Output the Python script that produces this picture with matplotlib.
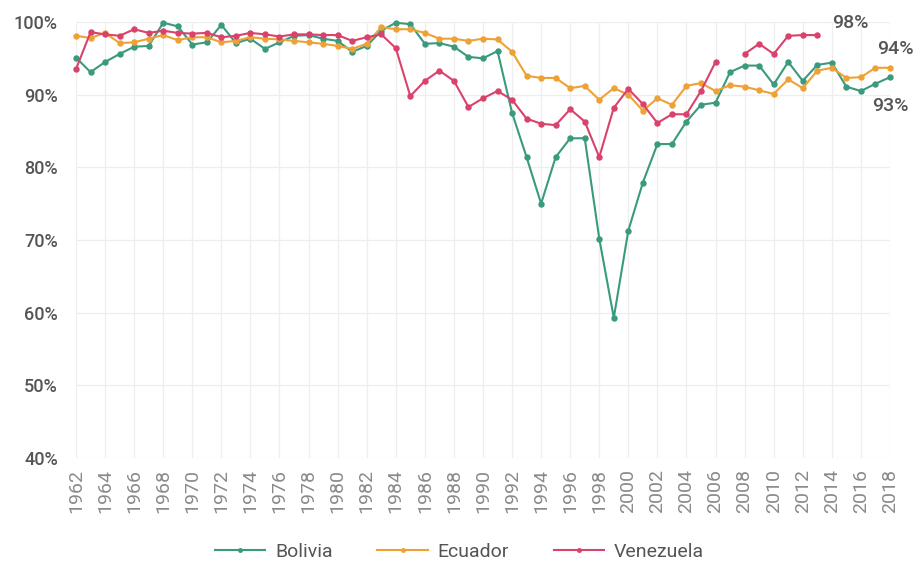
import numpy as np
import matplotlib
matplotlib.use('Agg')
import matplotlib.pyplot as plt

years = list(range(1962, 2019))

bolivia = [95.1, 93.1, 94.5, 95.6, 96.6, 96.7, 99.9, 99.4, 96.9, 97.2,
           99.6, 97.1, 97.7, 96.3, 97.2, 98.1, 98.2, 97.7, 97.4, 95.9,
           96.7, 98.8, 99.9, 99.7, 97.0, 97.1, 96.6, 95.2, 95.0, 96.0,
           87.5, 81.4, 75.0, 81.4, 84.0, 84.0, 70.2, 59.3, 71.3, 77.9,
           83.2, 83.2, 86.3, 88.6, 88.9, 93.1, 94.0, 94.0, 91.4, 94.5,
           91.9, 94.1, 94.4, 91.1, 90.5, 91.5, 92.4]

ecuador = [98.1, 97.8, 98.5, 97.1, 97.2, 97.7, 98.2, 97.5, 97.9, 97.9,
           97.2, 97.4, 97.9, 97.7, 97.6, 97.4, 97.2, 97.0, 96.7, 96.3,
           97.0, 99.3, 99.0, 99.0, 98.5, 97.7, 97.7, 97.4, 97.7, 97.6,
           95.9, 92.6, 92.3, 92.3, 90.9, 91.2, 89.3, 90.9, 90.0, 87.8,
           89.5, 88.6, 91.2, 91.6, 90.5, 91.3, 91.1, 90.6, 90.1, 92.1,
           90.9, 93.3, 93.7, 92.3, 92.4, 93.7, 93.7]

venezuela = [93.5, 98.6, 98.3, 98.1, 99.0, 98.5, 98.8, 98.5, 98.4, 98.5,
             97.9, 98.1, 98.5, 98.3, 98.0, 98.3, 98.3, 98.2, 98.2, 97.4,
             97.9, 98.3, 96.4, 89.8, 91.9, 93.3, 91.9, 88.3, 89.5, 90.5,
             89.3, 86.7, 86.0, 85.8, 88.0, 86.3, 81.4, 88.2, 90.8, 88.7,
             86.1, 87.3, 87.3, 90.5, 94.5, np.nan, 95.6, 97.0, 95.6, 98.1,
             98.2, 98.2, np.nan, np.nan, np.nan, np.nan, np.nan]

series = [('Bolivia', bolivia, '#3a9a7e'),
          ('Ecuador', ecuador, '#eea236'),
          ('Venezuela', venezuela, '#d9426b')]

end_labels = [('98%', 2015.3, 99.8), ('94%', 2018.4, 96.3), ('93%', 2018.05, 88.4)]

plt.rcParams['font.family'] = ['Roboto', 'DejaVu Sans']

fig = plt.figure(figsize=(9.19, 5.64), dpi=100)
ax = fig.add_axes([0.0827, 0.188, 0.8857, 0.773])

for name, vals, col in series:
    ax.plot(years, vals, color=col, lw=1.5, marker='o', ms=3.6,
            label=name, clip_on=False, zorder=3)

ax.set_xlim(1962, 2018)
ax.set_ylim(40, 100)
ax.set_xticks(range(1962, 2019, 2))
ax.set_xticklabels([str(y) for y in range(1962, 2019, 2)], rotation=90,
                   fontsize=14, color='#8a8a8a')
ax.set_yticks(range(40, 101, 10))
ax.set_yticklabels(['{}%'.format(v) for v in range(40, 101, 10)],
                   fontsize=13, color='#555555', fontweight='medium')
ax.tick_params(axis='both', length=0)
ax.tick_params(axis='y', pad=13)
ax.tick_params(axis='x', pad=8)
ax.grid(True, color='#eeeeee', lw=0.9, zorder=0)
for s in ax.spines.values():
    s.set_visible(False)

for txt, x, y in end_labels:
    ax.text(x, y, txt, fontsize=14, color='#555555', fontweight='medium',
            ha='center', va='center', clip_on=False)

leg = fig.legend(loc='lower center', bbox_to_anchor=(0.5, -0.025), ncol=3,
                 frameon=False, fontsize=14, handlelength=2.6,
                 handletextpad=0.5, columnspacing=2.3, markerscale=0.7)
for t in leg.get_texts():
    t.set_color('#555555')

fig.savefig('out.png', dpi=100)
